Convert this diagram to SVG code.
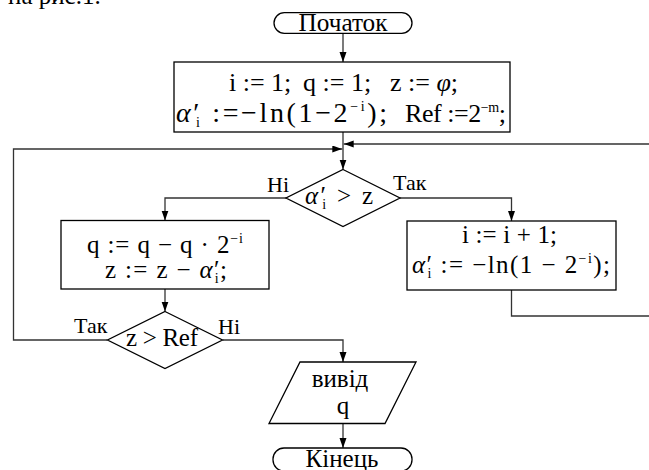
<svg xmlns="http://www.w3.org/2000/svg" width="649" height="470" viewBox="0 0 649 470">
<style>
.shape{fill:#fff;stroke:#000;stroke-width:1.3}
.conn{fill:none;stroke:#333;stroke-width:1.3}
text{font-family:"Liberation Serif","Times New Roman",serif;fill:#000}
.t{font-size:25px}
.e{font-size:26px}
.e2{font-size:28px}
.lbl{font-size:22px}
.it{font-style:italic}
.sm{font-size:14px}
.mid{text-anchor:middle}
</style>
<defs>
<marker id="ah" markerUnits="userSpaceOnUse" markerWidth="10" markerHeight="8" refX="10" refY="3.5" orient="auto">
<path d="M0,0 L10,3.5 L0,7 z" fill="#000"/>
</marker>
</defs>
<text class="t" x="8" y="4">на рис.1.</text>
<g id="connectors">
<path class="conn" d="M343,33.3 V62" marker-end="url(#ah)"/>
<path class="conn" d="M343,132 V169.5" marker-end="url(#ah)"/>
<path class="conn" d="M107.5,340 H13.5 V149 H342.3" marker-end="url(#ah)"/>
<path class="conn" d="M511.5,290 V316 H665 V144 H343.7" marker-end="url(#ah)"/>
<path class="conn" d="M286,198 H165 V220.5" marker-end="url(#ah)"/>
<path class="conn" d="M400,198 H511.5 V221" marker-end="url(#ah)"/>
<path class="conn" d="M165,289 V311.5" marker-end="url(#ah)"/>
<path class="conn" d="M222.5,340 H343 V362" marker-end="url(#ah)"/>
<path class="conn" d="M343,423.5 V448" marker-end="url(#ah)"/>
</g>
<g id="start">
<rect class="shape" x="274" y="12.7" width="138" height="20.6" rx="10.3"/>
<text class="t mid" x="343" y="30.5" textLength="89" lengthAdjust="spacingAndGlyphs">Початок</text>
</g>
<g id="init">
<rect class="shape" x="174" y="62" width="336" height="70"/>
<text class="e" y="91"><tspan x="229">i := 1;</tspan><tspan x="303">q := 1;</tspan><tspan x="390">z := </tspan><tspan class="it">φ</tspan><tspan>;</tspan></text>
<text class="e2" x="176" y="122" textLength="211" lengthAdjust="spacing"><tspan class="it">α</tspan><tspan>′</tspan><tspan class="sm" dx="-6" dy="5">i</tspan><tspan dy="-5"> :=−ln(1−2</tspan><tspan class="sm" dy="-11">−i</tspan><tspan dy="11">);</tspan></text>
<text class="e" x="405" y="122" textLength="101" lengthAdjust="spacing">Ref :=2<tspan class="sm" dy="-10">−m</tspan><tspan dy="10">;</tspan></text>
</g>
<g id="cond1">
<polygon class="shape" points="343,169.5 400,198 343,226.5 286,198"/>
<text class="t" x="305" y="204" textLength="68" lengthAdjust="spacing"><tspan class="it">α</tspan><tspan>′</tspan><tspan class="sm" dx="-6" dy="5">i</tspan><tspan dy="-5"> &gt; z</tspan></text>
<text class="lbl" x="267" y="192">Ні</text>
<text class="lbl" x="393" y="190">Так</text>
</g>
<g id="update-q">
<rect class="shape" x="61" y="220.5" width="208" height="68.5"/>
<text class="t" x="87" y="253" textLength="156" lengthAdjust="spacing">q := q − q · 2<tspan class="sm" dy="-10">−i</tspan></text>
<text class="t" x="105" y="278" textLength="122" lengthAdjust="spacing">z := z − <tspan class="it">α</tspan><tspan>′</tspan><tspan class="sm" dx="-6" dy="5">i</tspan><tspan dy="-5">;</tspan></text>
</g>
<g id="update-i">
<rect class="shape" x="407" y="221" width="209" height="69"/>
<text class="t" x="462" y="243" textLength="95" lengthAdjust="spacing">i := i + 1;</text>
<text class="t" x="412" y="273" textLength="198" lengthAdjust="spacing"><tspan class="it">α</tspan><tspan>′</tspan><tspan class="sm" dx="-6" dy="5">i</tspan><tspan dy="-5"> := −ln(1 − 2</tspan><tspan class="sm" dy="-10">−i</tspan><tspan dy="10">);</tspan></text>
</g>
<g id="cond2">
<polygon class="shape" points="165,311.5 222.5,340 165,368.5 107.5,340"/>
<text class="t" x="126" y="346" textLength="72" lengthAdjust="spacing">z &gt; Ref</text>
<text class="lbl" x="74" y="333">Так</text>
<text class="lbl" x="218" y="334">Ні</text>
</g>
<g id="output">
<polygon class="shape" points="300,362 416,362 385,423.5 269,423.5"/>
<text class="t mid" x="340" y="387">вивід</text>
<text class="t mid" x="343" y="414">q</text>
</g>
<g id="end">
<rect class="shape" x="273" y="448" width="139" height="23" rx="11"/>
<text class="t mid" x="342" y="467">Кінець</text>
</g>
</svg>
